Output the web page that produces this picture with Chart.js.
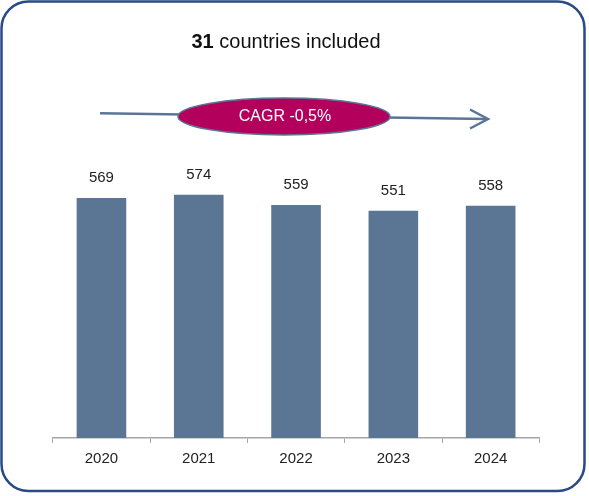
<!DOCTYPE html>
<html>
<head>
<meta charset="utf-8">
<script src="https://cdn.jsdelivr.net/npm/chart.js@4/dist/chart.umd.min.js"></script>
<style>
  html, body { margin: 0; padding: 0; background: #fff; }
  #wrap { width: 589px; height: 496px; position: relative; }
</style>
</head>
<body>
<div id="wrap"><canvas id="c" width="589" height="496"></canvas></div>
<script>
const years = ["2020", "2021", "2022", "2023", "2024"];
const values = [569, 574, 559, 551, 558];
const countriesCount = "31";
const titleRest = " countries included";
const cagrLabel = "CAGR -0,5%";

const decor = {
  id: 'decor',
  beforeDraw(chart) {
    const ctx = chart.ctx;
    ctx.save();
    ctx.fillStyle = '#fff';
    ctx.fillRect(0, 0, chart.width, chart.height);
    const x0 = 1.5, y0 = 1.5, x1 = 584.5, y1 = 491, r = 27;
    ctx.beginPath();
    ctx.moveTo(x0 + r, y0);
    ctx.lineTo(x1 - r, y0);
    ctx.arcTo(x1, y0, x1, y0 + r, r);
    ctx.lineTo(x1, y1 - r);
    ctx.arcTo(x1, y1, x1 - r, y1, r);
    ctx.lineTo(x0 + r, y1);
    ctx.arcTo(x0, y1, x0, y1 - r, r);
    ctx.lineTo(x0, y0 + r);
    ctx.arcTo(x0, y0, x0 + r, y0, r);
    ctx.closePath();
    ctx.lineWidth = 2.5;
    ctx.strokeStyle = '#284a87';
    ctx.stroke();
    ctx.restore();
  },
  afterDraw(chart) {
    const ctx = chart.ctx;
    ctx.save();
    ctx.textBaseline = 'alphabetic';
    ctx.fillStyle = '#111';
    const fb = 'bold 20px "Liberation Sans", Arial, sans-serif';
    const fn = '20px "Liberation Sans", Arial, sans-serif';
    ctx.font = fb; const w1 = ctx.measureText(countriesCount).width;
    ctx.font = fn; const w2 = ctx.measureText(titleRest).width;
    let tx = 286 - (w1 + w2) / 2;
    ctx.font = fb; ctx.fillText(countriesCount, tx, 48);
    ctx.font = fn; ctx.fillText(titleRest, tx + w1, 48);

    ctx.strokeStyle = '#5b7596';
    ctx.lineWidth = 2.5;
    ctx.beginPath();
    ctx.moveTo(100, 113.3);
    ctx.lineTo(487, 119);
    ctx.stroke();
    ctx.beginPath();
    ctx.moveTo(470, 109.5);
    ctx.lineTo(488, 119);
    ctx.lineTo(470, 128.5);
    ctx.stroke();

    ctx.beginPath();
    ctx.ellipse(284, 116.5, 106, 18.5, 0, 0, Math.PI * 2);
    ctx.fillStyle = '#b3005c';
    ctx.fill();
    ctx.lineWidth = 1.5;
    ctx.strokeStyle = '#5b7596';
    ctx.stroke();
    ctx.fillStyle = '#fff';
    ctx.font = '16px "Liberation Sans", Arial, sans-serif';
    ctx.textAlign = 'center';
    ctx.textBaseline = 'middle';
    ctx.fillText(cagrLabel, 285, 117);

    const meta = chart.getDatasetMeta(0);
    ctx.fillStyle = '#222';
    ctx.font = '15px "Liberation Sans", Arial, sans-serif';
    ctx.textBaseline = 'middle';
    meta.data.forEach((bar, i) => {
      ctx.fillText(String(chart.data.datasets[0].data[i]), bar.x, bar.y - 20);
    });
    ctx.restore();
  }
};

new Chart(document.getElementById('c'), {
  type: 'bar',
  data: {
    labels: years,
    datasets: [{
      data: values,
      backgroundColor: '#5b7694',
      borderWidth: 0,
      barPercentage: 0.51,
      categoryPercentage: 1.0
    }]
  },
  options: {
    responsive: false,
    animation: false,
    events: [],
    layout: { padding: { left: 52.8, right: 49.7, top: 150, bottom: 21 } },
    plugins: { legend: { display: false }, tooltip: { enabled: false }, title: { display: false } },
    scales: {
      y: { display: false, min: 225, max: 638 },
      x: {
        offset: true,
        grid: { display: true, drawOnChartArea: false, tickLength: 5, color: '#a6a6a6', offset: true },
        border: { display: true, color: '#a6a6a6', width: 1.5 },
        ticks: { color: '#222', font: { size: 15, family: '"Liberation Sans", Arial, sans-serif' }, padding: 7 }
      }
    }
  },
  plugins: [decor]
});
</script>
</body>
</html>
